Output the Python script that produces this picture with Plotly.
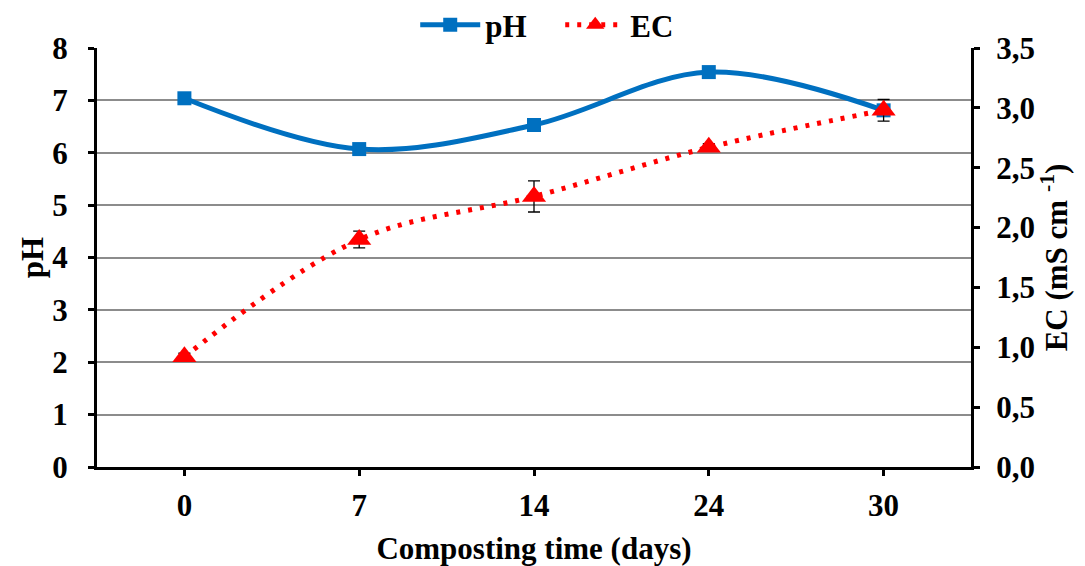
import plotly.graph_objects as go

days = ["0", "7", "14", "24", "30"]
ph_values = [7.04, 6.07, 6.53, 7.54, 6.81]
ec_values = [0.92, 1.90, 2.26, 2.67, 2.98]
ec_errors = [0.03, 0.07, 0.13, 0.03, 0.09]
ph_ticks = [0, 1, 2, 3, 4, 5, 6, 7, 8]
ec_ticks = [0.0, 0.5, 1.0, 1.5, 2.0, 2.5, 3.0, 3.5]
ec_ticklabels = ["0,0", "0,5", "1,0", "1,5", "2,0", "2,5", "3,0", "3,5"]

x_pos = list(range(len(days)))
FONT = "Liberation Serif"

fig = go.Figure()
fig.add_trace(go.Scatter(
    x=x_pos, y=ph_values, name="pH", mode="lines+markers",
    line=dict(color="#0070C0", width=5, shape="spline", smoothing=1.0),
    marker=dict(symbol="square", size=14, color="#0070C0"),
    yaxis="y",
))
fig.add_trace(go.Scatter(
    x=x_pos, y=ec_values, name="EC", mode="lines+markers",
    line=dict(color="#FF0000", width=5, dash="4px,8px", shape="spline", smoothing=1.0),
    marker=dict(symbol="triangle-up", size=21, color="#FF0000"),
    error_y=dict(type="data", array=ec_errors, visible=True, color="#000000", thickness=1.3, width=6),
    yaxis="y2",
))

tickfont = dict(family=FONT, size=31, color="black", weight="bold")
titlefont = dict(family=FONT, size=31, color="black", weight="bold")

fig.update_layout(
    width=1085, height=566,
    margin=dict(l=97, r=114, t=48, b=99, autoexpand=False),
    paper_bgcolor="white", plot_bgcolor="white",
    showlegend=True,
    legend=dict(orientation="h", x=0.53, xanchor="center", y=0.99, yanchor="bottom",
                font=dict(family=FONT, size=31, color="black", weight="bold"),
                bgcolor="rgba(0,0,0,0)", itemwidth=60, tracegroupgap=0,
                entrywidth=70, entrywidthmode="pixels"),
    xaxis=dict(
        range=[-0.5, 4.5], tickvals=x_pos, ticktext=days,
        showline=True, linecolor="black", linewidth=3, mirror=False,
        ticks="outside", ticklen=6, tickwidth=3, tickcolor="black",
        showgrid=False, zeroline=False, tickfont=tickfont, ticklabelstandoff=3,
        title=dict(text="Composting time (days)", font=titlefont, standoff=16),
    ),
    yaxis=dict(
        range=[0, 8], tickvals=ph_ticks,
        showline=True, linecolor="black", linewidth=3,
        ticks="outside", ticklen=6, tickwidth=3, tickcolor="black",
        showgrid=True, gridcolor="#8C8C8C", gridwidth=2, zeroline=False,
        tickfont=tickfont, ticklabelstandoff=14,
        title=dict(text="pH", font=titlefont, standoff=0),
    ),
    yaxis2=dict(
        range=[0, 3.5], tickvals=ec_ticks, ticktext=ec_ticklabels,
        overlaying="y", side="right",
        showline=True, linecolor="black", linewidth=3,
        ticks="outside", ticklen=6, tickwidth=3, tickcolor="black",
        showgrid=False, zeroline=False, tickfont=tickfont, ticklabelstandoff=10,
        title=dict(text="EC (mS cm <sup>-1</sup>)", font=titlefont, standoff=12),
    ),
)

fig.write_html("out.html")
